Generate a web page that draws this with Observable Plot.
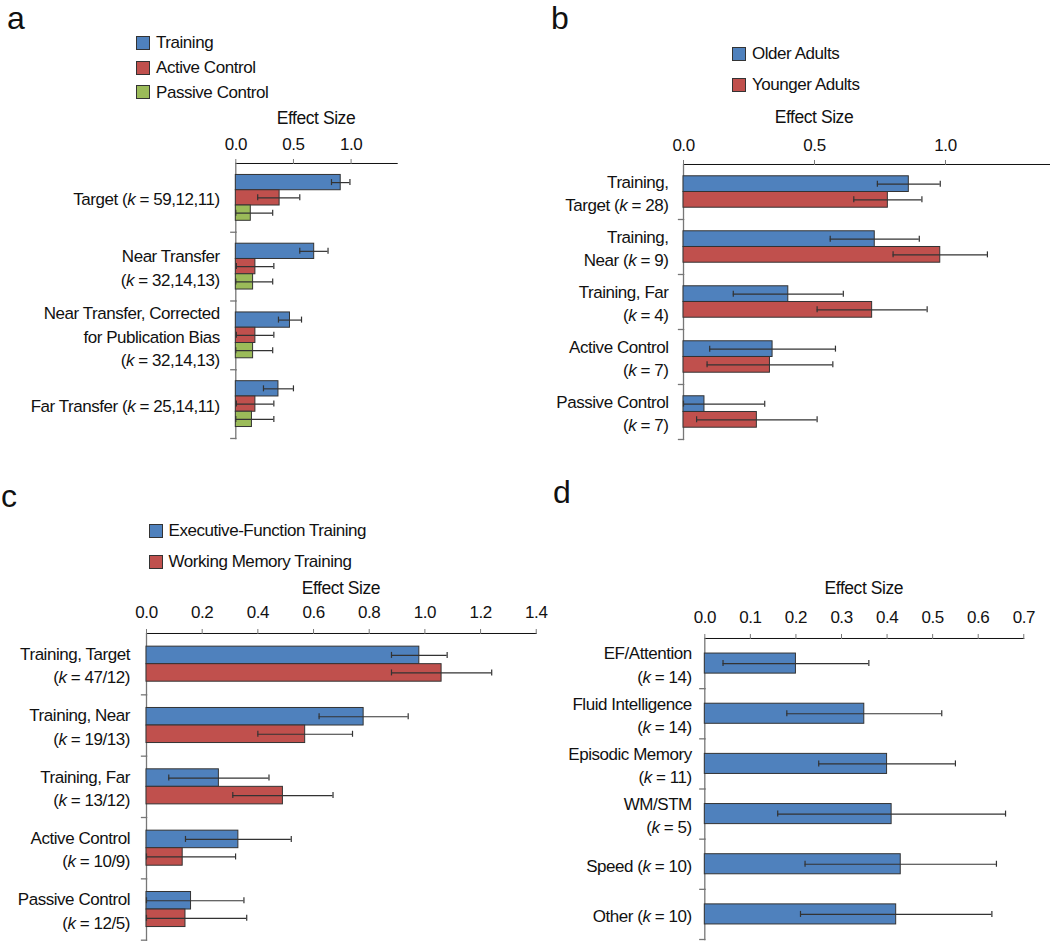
<!DOCTYPE html>
<html><head><meta charset="utf-8">
<script src="https://cdn.jsdelivr.net/npm/d3@7"></script>
<script src="https://cdn.jsdelivr.net/npm/@observablehq/plot@0.6"></script>
<style>
body{margin:0;background:#fff;}
#root{position:relative;width:1050px;height:943px;overflow:hidden;font-family:"Liberation Sans",Arial,sans-serif;color:#111;background:#fff;}
.abs{position:absolute;white-space:nowrap;}
.sw{position:absolute;width:12px;height:12px;border:1px solid #333;}
#root svg g[aria-label^="x-axis"] line,#root svg g[aria-label^="x-axis"] path{stroke:#777;}
</style></head>
<body><div id="root"></div>
<script>
// ---------- data ----------
const aCats = ["Target (k = 59,12,11)", "Near Transfer\n(k = 32,14,13)", "Near Transfer, Corrected\nfor Publication Bias\n(k = 32,14,13)", "Far Transfer (k = 25,14,11)"];
const aSeries = ["Training", "Active Control", "Passive Control"];
const aValues = [[0.91, 0.38, 0.13], [0.68, 0.17, 0.15], [0.47, 0.17, 0.15], [0.37, 0.17, 0.14]];
const aLow = [[0.83, 0.19, 0.0], [0.555, 0.005, 0.0], [0.37, 0.005, 0.0], [0.24, 0.005, 0.0]];
const aHigh = [[0.99, 0.555, 0.32], [0.80, 0.33, 0.32], [0.57, 0.33, 0.32], [0.50, 0.33, 0.33]];

const bCats = ["Training,\nTarget (k = 28)", "Training,\nNear (k = 9)", "Training, Far\n(k = 4)", "Active Control\n(k = 7)", "Passive Control\n(k = 7)"];
const bSeries = ["Older Adults", "Younger Adults"];
const bValues = [[0.86, 0.78], [0.73, 0.98], [0.40, 0.72], [0.34, 0.33], [0.08, 0.28]];
const bLow = [[0.74, 0.65], [0.56, 0.80], [0.19, 0.51], [0.10, 0.09], [0.0, 0.05]];
const bHigh = [[0.98, 0.91], [0.90, 1.16], [0.61, 0.93], [0.58, 0.57], [0.31, 0.51]];

const cCats = ["Training, Target\n(k = 47/12)", "Training, Near\n(k = 19/13)", "Training, Far\n(k = 13/12)", "Active Control\n(k = 10/9)", "Passive Control\n(k = 12/5)"];
const cSeries = ["Executive-Function Training", "Working Memory Training"];
const cValues = [[0.98, 1.06], [0.78, 0.57], [0.26, 0.49], [0.33, 0.13], [0.16, 0.14]];
const cLow = [[0.88, 0.88], [0.62, 0.40], [0.08, 0.31], [0.14, 0.0], [0.0, 0.0]];
const cHigh = [[1.08, 1.24], [0.94, 0.74], [0.44, 0.67], [0.52, 0.32], [0.35, 0.36]];

const dCats = ["EF/Attention\n(k = 14)", "Fluid Intelligence\n(k = 14)", "Episodic Memory\n(k = 11)", "WM/STM\n(k = 5)", "Speed (k = 10)", "Other (k = 10)"];
const dSeries = ["Effect Size"];
const dValues = [[0.20], [0.35], [0.40], [0.41], [0.43], [0.42]];
const dLow = [[0.04], [0.18], [0.25], [0.16], [0.22], [0.21]];
const dHigh = [[0.36], [0.52], [0.55], [0.66], [0.64], [0.63]];

const aTicks = [0, 0.5, 1.0];
const bTicks = [0, 0.5, 1.0];
const cTicks = [0, 0.2, 0.4, 0.6, 0.8, 1.0, 1.2, 1.4];
const dTicks = [0, 0.1, 0.2, 0.3, 0.4, 0.5, 0.6, 0.7];

const BLUE = "#4F81BD", RED = "#C0504D", GREEN = "#9BBB59";
const FONT = '"Liberation Sans",Arial,sans-serif';
const FS = 17, LS = "-0.45px";
const root = document.getElementById("root");
const NS = "http://www.w3.org/2000/svg";

function italicK(svg) {
  svg.querySelectorAll("text, tspan").forEach(el => {
    for (const node of [...el.childNodes]) {
      if (node.nodeType === 3 && node.nodeValue.includes("(k =")) {
        const parts = node.nodeValue.split("(k =");
        const frag = document.createDocumentFragment();
        parts.forEach((p, i) => {
          if (i > 0) {
            frag.appendChild(document.createTextNode("("));
            const t = document.createElementNS(NS, "tspan");
            t.setAttribute("font-style", "italic");
            t.textContent = "k";
            frag.appendChild(t);
            frag.appendChild(document.createTextNode(" ="));
          }
          frag.appendChild(document.createTextNode(p));
        });
        el.replaceChild(frag, node);
      }
    }
  });
}

// place a text so that its baseline sits at `baseline` (Liberation Sans metrics)
function addText(txt, x, baseline, fs, anchor, lh) {
  lh = lh || Math.round(fs * 1.2);
  const d = document.createElement("div");
  d.className = "abs";
  d.textContent = txt;
  d.style.fontSize = fs + "px";
  d.style.lineHeight = lh + "px";
  d.style.letterSpacing = LS;
  d.style.top = (baseline - ((lh - 1.117 * fs) / 2 + 0.905 * fs)) + "px";
  d.style.left = x + "px";
  if (anchor === "middle") d.style.transform = "translateX(-50%)";
  root.appendChild(d);
  return d;
}

function legend(series, colors, x, centers) {
  series.forEach((s, i) => {
    const sw = document.createElement("div");
    sw.className = "sw";
    sw.style.background = colors[i];
    sw.style.left = x + "px";
    sw.style.top = (centers[i] - 7) + "px";
    root.appendChild(sw);
    addText(s, x + 20, centers[i] + 6.2, FS);
  });
}

function panel(o) {
  const {cats, series, values, low, high, colors, xDomain, ticks, fmt, x0, unit, axisY, facetH,
         marginLeft, marginRight, labelGap, tickPadding, labelAt, labelBaseline} = o;
  const rows = [];
  cats.forEach((c, i) => series.forEach((s, j) => rows.push({cat: c, s, v: values[i][j], lo: low[i][j], hi: high[i][j], first: j === 0})));
  const marginTop = 50, marginBottom = 6;
  const plotW = (xDomain[1] - xDomain[0]) * unit;
  const n = series.length;
  const bw = facetH / (n + 1.5);
  const capInset = Math.max(0, (bw - 6) / 2);
  const svg = Plot.plot({
    width: marginLeft + plotW + marginRight,
    height: marginTop + facetH * cats.length + marginBottom,
    marginTop, marginLeft, marginRight, marginBottom,
    facet: {data: rows, y: "cat"},
    fy: {domain: cats, padding: 0, round: false, axis: null},
    y: {domain: series, paddingInner: 0, paddingOuter: 0.75, round: false, axis: null},
    x: {domain: xDomain, ticks, tickFormat: fmt, axis: "top", label: null, line: true, tickSize: 5, tickPadding},
    color: {domain: series, range: colors},
    style: {fontFamily: FONT, fontSize: FS + "px", letterSpacing: LS, color: "#111", background: "transparent", overflow: "visible"},
    marks: [
      Plot.frame({anchor: "left", stroke: "#777", strokeWidth: 1.3}),
      Plot.frame({anchor: "bottom", insetLeft: -5, insetRight: plotW, stroke: "#777", strokeWidth: 1.3}),
      Plot.barX(rows, {x: "v", y: "s", fill: "s", stroke: "#333", strokeWidth: 1}),
      Plot.ruleY(rows, {y: "s", x1: "lo", x2: "hi", stroke: "#333", strokeWidth: 1.2}),
      Plot.tickX(rows, {y: "s", x: "lo", insetTop: capInset, insetBottom: capInset, stroke: "#333", strokeWidth: 1.2}),
      Plot.tickX(rows, {y: "s", x: "hi", insetTop: capInset, insetBottom: capInset, stroke: "#333", strokeWidth: 1.2}),
      Plot.text(rows, {filter: d => d.first, text: "cat", frameAnchor: "left", dx: -labelGap, textAnchor: "end", lineHeight: 1.38, fill: "#111"})
    ]
  });
  italicK(svg);
  const left = x0 - marginLeft, top = axisY - marginTop;
  svg.style.position = "absolute";
  svg.style.left = left + "px";
  svg.style.top = top + "px";
  root.appendChild(svg);
  const sx = svg.scale("x");
  addText("Effect Size", left + sx.apply(labelAt), labelBaseline, 17.5, "middle");
  return svg;
}

panel({cats: aCats, series: aSeries, values: aValues, low: aLow, high: aHigh, colors: [BLUE, RED, GREEN],
  xDomain: [0, 1.4], ticks: aTicks, fmt: d3.format(".1f"), x0: 235.3, unit: 115.3, axisY: 163, facetH: 68.75,
  marginLeft: 235.3, marginRight: 8, labelGap: 16, tickPadding: 8, labelAt: 0.7, labelBaseline: 125});
panel({cats: bCats, series: bSeries, values: bValues, low: bLow, high: bHigh, colors: [BLUE, RED],
  xDomain: [0, 1.4], ticks: bTicks, fmt: d3.format(".1f"), x0: 683, unit: 262, axisY: 164, facetH: 55,
  marginLeft: 138, marginRight: 1, labelGap: 15, tickPadding: 8, labelAt: 0.5, labelBaseline: 124});
panel({cats: cCats, series: cSeries, values: cValues, low: cLow, high: cHigh, colors: [BLUE, RED],
  xDomain: [0, 1.4], ticks: cTicks, fmt: d3.format(".1f"), x0: 146, unit: 278.4, axisY: 633.3, facetH: 61.34,
  marginLeft: 146, marginRight: 8, labelGap: 16.5, tickPadding: 10, labelAt: 0.7, labelBaseline: 595});
panel({cats: dCats, series: dSeries, values: dValues, low: dLow, high: dHigh, colors: [BLUE],
  xDomain: [0, 0.7], ticks: dTicks, fmt: d3.format(".1f"), x0: 704.3, unit: 455.7, axisY: 638.3, facetH: 50.17,
  marginLeft: 144.3, marginRight: 12, labelGap: 13, tickPadding: 10, labelAt: 0.35, labelBaseline: 595});

legend(aSeries, [BLUE, RED, GREEN], 136, [43, 67.7, 92.4]);
legend(bSeries, [BLUE, RED], 732, [54, 85]);
legend(cSeries, [BLUE, RED], 148.5, [530.5, 562]);

addText("a", 7, 29.5, 32, null, 28);
addText("b", 551, 29.5, 32, null, 28);
addText("c", 1, 507, 32, null, 28);
addText("d", 553, 503, 32, null, 28);
</script>
</body></html>
